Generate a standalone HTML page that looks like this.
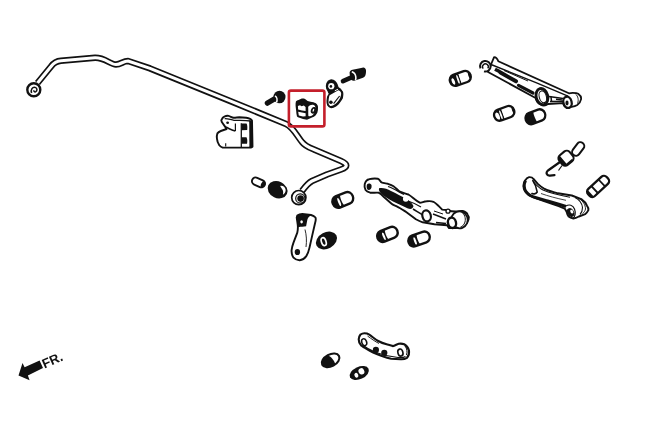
<!DOCTYPE html>
<html><head><meta charset="utf-8">
<style>
html,body{margin:0;padding:0;background:#fff;width:645px;height:430px;overflow:hidden;}
svg{display:block;filter:blur(0.3px);}
</style></head>
<body>
<svg width="645" height="430" viewBox="0 0 645 430">
<rect width="645" height="430" fill="#fff"/>
<g id="bar" fill="none" stroke-linejoin="round" stroke-linecap="butt">
<path id="barpath" d="M37.5,83 L51,66.5 Q55,61.2 61,60.8 L95,57.8 C105,57.5 110,64.5 116,64.5 C121,64.5 123,61 128,61 L150,68.4 L230,100.9 L286,124 C293,127 297,136 302,142 C305,146 309,147.5 314,149.5 L341,161 C348,164 348,167 341,169.5 L327,174.5 L312,181 C308,183 305,187 302,191" stroke="#111" stroke-width="6.5"/>
<path d="M37.5,83 L51,66.5 Q55,61.2 61,60.8 L95,57.8 C105,57.5 110,64.5 116,64.5 C121,64.5 123,61 128,61 L150,68.4 L230,100.9 L286,124 C293,127 297,136 302,142 C305,146 309,147.5 314,149.5 L341,161 C348,164 348,167 341,169.5 L327,174.5 L312,181 C308,183 305,187 302,191" stroke="#fff" stroke-width="3.1"/>
</g>
<!-- ball end -->
<circle cx="33.8" cy="89.7" r="6.5" fill="#fff" stroke="#111" stroke-width="2.4"/>
<path d="M31.6,93 C30.4,89.5 32.5,86.8 35.2,87.4 C37.4,88 37.5,91 35.6,91.8 C34.5,92.2 33.6,91.2 34,90.2" fill="none" stroke="#111" stroke-width="1.5"/>
<!-- eye end -->
<circle cx="298.8" cy="197.6" r="7.1" fill="#fff" stroke="#111" stroke-width="1.7"/>
<circle cx="300.3" cy="198.4" r="4.6" fill="#fff" stroke="#111" stroke-width="1.2"/>
<circle cx="300.6" cy="198.6" r="3.3" fill="#111"/>


<!-- left bracket -->
<path d="M221.3,120.3 C222,118.3 223.2,116.8 224.7,116.3 C226,115.8 227.4,115.6 228.6,115.9 C230.5,116.5 232,117.6 233.5,117.8 C235.5,117.9 237.5,117.3 239.3,117.3 L246.2,117.8 C247.7,118 249,118.3 250.1,118.8 C251,119.3 251.7,120 252,120.7 L252.5,146.6 C251.5,147.3 250.3,147.6 249.1,147.6 L222.7,147.6 C221.3,147.1 220.1,146.3 219.3,145.2 C218,143.2 217.1,140.8 216.9,138.3 C216.7,136.5 216.9,134.8 217.4,133.4 C218.2,132.2 219.4,131.5 220.8,131 L226.6,129 C226,128.3 225.7,127.7 225.4,127.1 L221.8,122 Z" fill="#fff" stroke="#111" stroke-width="1.9" stroke-linejoin="round"/>
<path d="M225.4,127.1 C228.5,128.2 231.5,129.8 235.4,131" fill="none" stroke="#111" stroke-width="1.6"/>
<path d="M224.7,118.6 C228,118.4 231,120 234,120.3 C239,120.6 244,120.2 250.5,121" fill="none" stroke="#111" stroke-width="1.3"/>
<path d="M235.4,123.5 L235.4,131" stroke="#111" stroke-width="1.2"/>
<path d="M241.3,123.3 L241.3,147" stroke="#111" stroke-width="1.3"/>
<ellipse cx="227.6" cy="122.7" rx="1.4" ry="1.2" fill="#111"/>
<path d="M241.6,123.5 L246.5,123.5 C247.3,124.5 247.5,127 247.2,130 L241.6,130.2 Z" fill="#111"/>
<path d="M241.6,137.3 L246.5,137.3 C247.4,139 247.5,141.5 247,143.8 L241.6,143.8 Z" fill="#111"/>
<path d="M250.6,120.5 L250.8,147.2" stroke="#111" stroke-width="2.8"/>
<path d="M225.7,143.3 L225.7,146.6" stroke="#111" stroke-width="1.1"/>

<!-- left bolt -->
<g>
<line x1="267.5" y1="103" x2="276" y2="98" stroke="#111" stroke-width="5.5" stroke-linecap="round"/>
<ellipse cx="279.5" cy="97" rx="6" ry="6.3" fill="#111"/>
<path d="M275,96 C277,97 277.5,100 276.5,102.5" fill="none" stroke="#fff" stroke-width="1.6"/>
</g>

<!-- right bolt -->
<line x1="343" y1="81.2" x2="351.5" y2="77.4" stroke="#111" stroke-width="4.6" stroke-linecap="round"/>
<path d="M349.6,72.3 C350.2,70.8 351.2,70 352.5,69.7 L360,68.3 L363.3,67.4 C364.6,67.3 365.6,68.3 365.9,69.8 C366.2,71.3 366,73.5 365.5,75 C365,76.3 364.2,77.2 363,77.8 L358,79.6 L355,80.6 C353.5,81 352.3,80.8 351.5,80 C350.3,78 349.5,75 349.6,72.3 Z" fill="#111"/>
<path d="M351.8,71.8 C354,72.5 355.5,74.5 355.8,76.8 C356,78 355.8,79.3 355.3,80" fill="none" stroke="#fff" stroke-width="1.6"/>

<!-- dogbone bracket -->
<path d="M330.5,80 C332.5,79.8 334,80.5 335,81.5 C336.3,82.7 337,84 337.4,85.5 L338,87.5 C339.5,88.2 340.5,89 341,89.8 C342.3,91.2 342.9,92.5 342.8,94 C342.7,95.5 342.6,96.7 342.3,98 C341.5,99.7 340.5,101 339.4,102.3 C338.3,103.8 337,105 335.7,106.1 C334.3,107 332.8,107.6 331.2,107.6 C329.8,107.4 328.5,106.5 327.8,105.3 C327.2,103.9 327,102.3 327.1,100.8 C327.2,99.3 327.4,97.8 327.8,96.4 C328.3,95.4 329,94.6 329.7,94.1 C329,93.2 328.6,92.3 328.2,91.2 C327,89.8 326.4,88 326.4,86 C326.5,84 327.2,82.3 328.3,81.2 C329,80.5 329.7,80.1 330.5,80 Z" fill="#111" stroke="#111" stroke-width="1.2" stroke-linejoin="round"/>
<circle cx="331.3" cy="86.2" r="3.1" fill="#fff"/>
<circle cx="330.9" cy="86.4" r="1.3" fill="#111"/>
<path d="M329.6,95.3 C332.5,93.6 335.5,92 338.3,90.2 C340,90.8 341.1,92 341.2,93.8 C341.1,96.5 339.6,99.8 336.8,102.8 C334.8,104.8 332.3,106.1 330.2,105.9 C328.8,105.2 328.4,103.6 328.5,101.6 C328.6,99.2 328.9,97 329.6,95.3 Z" fill="#fff"/>
<path d="M333.6,103.6 L339.6,96" stroke="#111" stroke-width="1.2"/>
<path d="M334.8,90.8 L338,89.2" stroke="#fff" stroke-width="1"/>
<circle cx="330.9" cy="102.3" r="1.8" fill="#111"/>

<!-- red box bushing -->
<g>
<path d="M295.9,101.5 C296.5,100.5 297.5,100.3 298.5,99.9 L301.8,98.6 C303,98.4 304,98.5 305,98.9 C306,99.5 306.8,100.5 307.6,100.9 C309.5,101.5 311.5,101.7 313.5,102.2 C315,102.7 316,103.3 316.7,104.1 C317.8,105.3 318.1,106.5 318,108 C318,109.5 317.9,111 317.4,112.6 C316.9,113.8 316.3,114.7 315.5,115.5 C314.5,116.4 313.3,117 312,117.5 L307,119.8 L303,119 L299.5,117.7 C298.3,117.4 297.5,117 297,116.5 C296.5,114.8 296.3,113 296.2,111.3 L295.6,106 C295.5,104.3 295.6,102.7 295.9,101.5 Z" fill="#111"/>
<path d="M297.9,106 L300,105.3 L301.6,106.3 L303.8,105.5 L305.6,107 L305.6,111.1 L302,110.5 L298.1,109.6 Z" fill="#fff"/>
<path d="M298.2,111.8 L302,112.5 L305.6,113.2 L305.6,116.2 L303,116.6 L298.8,115.6 Z" fill="#fff"/>
<path d="M308.2,106.8 C309.8,104.6 313.3,104 315,106 C316.1,108.6 315.4,112.8 312.8,115 C311.1,116.3 309,116.6 308.3,115.7 Z" fill="#fff"/>
<ellipse cx="313.4" cy="110.3" rx="1.6" ry="2.5" fill="#fff" stroke="#111" stroke-width="1.8" transform="rotate(20 313.4 110.3)"/>
</g>

<!-- black bushing -->
<ellipse cx="277.6" cy="189.7" rx="10.3" ry="8.3" fill="#111" transform="rotate(25 277.6 189.7)"/>
<path d="M280.2,185.9 C282.6,185.1 285.1,187 285.6,189.6 C286,191.8 284.8,193.8 282.9,194.8 C283.3,193 283.3,191.5 282.7,190 C282.1,188.7 281.1,187.8 280.2,185.9 Z" fill="#fff"/>
<!-- link -->
<path d="M297.3,215.6 C299,214.3 300.5,214 302.3,214 L311.1,215 C313,215.5 314.5,216.3 315.5,217.5 C316,219 315.7,220.8 315.2,222.5 L312.3,235.1 L309.5,247.6 C308.8,251 307.6,254 306.1,256.4 C304.5,258.6 302.3,260 299.8,260.2 C297.3,260.3 295,259.3 293.5,257.7 C292,255.5 291.4,252.8 291.6,250.1 C291.9,247.5 292.6,245 293.5,242.6 L297.3,232.6 C297.7,230.7 297.9,228.8 297.9,226.9 C297.8,223.5 297,220.5 296.7,217.5 Z" fill="#fff" stroke="#111" stroke-width="1.9" stroke-linejoin="round"/>
<path d="M297.3,215.6 C299,214.3 300.5,214 302.3,214 L311.1,215 C309,216.5 307.8,218 307.3,220 L306.1,226.3 C303,226.8 300,227 297.9,226.9 C297.8,223.5 297,220.5 296.7,217.5 Z" fill="#111"/>
<ellipse cx="301.6" cy="221.8" rx="1.3" ry="1.6" fill="#fff"/>
<ellipse cx="297.4" cy="252" rx="2.7" ry="3.1" fill="#111"/>
<path d="M305,229.5 C306.5,235 306.8,241 306,247" fill="none" stroke="#111" stroke-width="0.9"/>
<!-- bushing black ellipse near link -->
<ellipse cx="326.5" cy="240.5" rx="11.2" ry="8.1" fill="#111" transform="rotate(-28 326.5 240.5)"/>
<ellipse cx="323.7" cy="241.6" rx="2.3" ry="4.1" fill="none" stroke="#fff" stroke-width="1.7" transform="rotate(-18 323.7 241.6)"/>

<!-- middle arm -->
<g stroke="#111" stroke-width="1.9" stroke-linejoin="round" fill="#fff">
<path d="M364.7,184.3 C365.5,181 367,179.5 369.3,179.2 C372,178.5 375,178.3 377.7,178.7 C379.5,179.5 380.5,181.5 381.4,182.4 C383.5,183.3 385.5,183.3 387.9,183.8 C390,184.5 392,185.2 393.5,186.2 C396,188 398,190.5 400,191.7 C403,193 406,193.5 408.4,194.5 C412,196.5 416,201 419.8,202.7 C422,202.5 424,201.5 426.6,201.3 C429,201 431.5,201 433.4,201.8 C435.5,203 437,204.5 438.3,205.7 L442.2,209.6 L447.1,210 C450,211 453,211.8 456.9,211.5 C459,211 461,210.8 462.7,211 C465,211.8 467,213 467.6,214.5 C468.8,216 469,218 468.6,219.3 C468,222 466.5,224 464.7,225.2 C462,227 459,228 455.9,228.1 L449,228.1 C448,227 447.5,226 447.1,225.2 L434.4,224.2 L422.7,222.3 C420,221.5 418,220.5 415.9,219.3 L406.5,212.2 C403,210 400,208 397.2,206.6 C395,205.5 393,205 391.6,203.8 L384.2,197.3 C382,195 380.5,193.5 378.6,192.7 C375.5,192.5 372.5,193 370.2,192.7 C368,192 366.5,191.3 365.6,190 C364.5,188 364.3,186 364.7,184.3 Z"/>
</g>
<path d="M367,184.5 C368,183 371,183.2 371.6,185.5 C372,188 370.5,190 368.5,190 C366.5,189.5 366.3,186.5 367,184.5 Z" fill="#111"/>
<path d="M379,188.3 C383,187.5 387,189 391,191 C396,193.5 401,196 405,198 C409,200 412,203 413.5,206 C413,208.5 411,209.5 408,208.5 C403,206.5 398,203.5 393,201.5 C388,199 384,196 381,193.5 C379.5,192 378.5,190 379,188.3 Z" fill="#111"/>
<circle cx="405.8" cy="198.8" r="2.9" fill="#fff"/>
<path d="M388,186.5 C394,188.5 399,192 404,194.5" fill="none" stroke="#111" stroke-width="1.3"/>
<path d="M413,209 C418,212 422,215 428,217.5" fill="none" stroke="#111" stroke-width="1.6"/>
<path d="M408,201 C414,203 418,205 421,207" fill="none" stroke="#111" stroke-width="1.1"/>
<ellipse cx="426.6" cy="215.9" rx="4.2" ry="5.6" fill="#fff" stroke="#111" stroke-width="2.2" transform="rotate(-15 426.6 215.9)"/>
<path d="M433,214 L446,219" stroke="#111" stroke-width="1.5"/>
<path d="M434,211 L443,214" stroke="#111" stroke-width="1"/>
<path d="M436,222.5 L446,223.5" stroke="#111" stroke-width="1.3"/>
<ellipse cx="459.5" cy="219.8" rx="8.2" ry="8.5" fill="#fff" stroke="#111" stroke-width="1.8" transform="rotate(-20 459.5 219.8)"/>
<path d="M461.5,212 C464.5,214 466,218 465,222 C464,225 462.5,226.5 460.5,227" fill="none" stroke="#111" stroke-width="1"/>
<ellipse cx="452" cy="222.8" rx="4" ry="5.2" fill="#fff" stroke="#111" stroke-width="2.4" transform="rotate(-15 452 222.8)"/>
<circle cx="448" cy="211.2" r="2" fill="#fff" stroke="#111" stroke-width="1.3"/>

<!-- top right arm -->
<path d="M494.1,57.1 C496,57.2 497.5,59 498.3,61.3 L568.9,93.3 C570,93 571.5,92.9 572.7,92.9 C575.5,92.9 577.5,93.3 578.2,93.8 C580.5,95.5 581.5,97.5 581,99.4 C580.5,102 579,104 577.3,105 C575.5,106 573.5,106.5 571.7,106.8 C570,107.5 568.5,108.2 567,108.2 C565,107 563.5,105 563.3,103.1 L548,104 C546,105.5 543,106 540.5,104.5 C538,103 536,100.5 535.6,98 L488,72 C489,69 490,66.5 491,64.5 Z" fill="#fff" stroke="#111" stroke-width="1.8" stroke-linejoin="round"/>
<path d="M491,64.5 L536,82.7 L568,96.1" fill="none" stroke="#111" stroke-width="1.4"/>
<path d="M495,69.2 L500,71.8" stroke="#111" stroke-width="3.5"/>
<path d="M500.5,72.5 L516,81.3" stroke="#111" stroke-width="4" stroke-linecap="round"/>
<path d="M518.5,85.3 L533,93" stroke="#111" stroke-width="3.2" stroke-linecap="round"/>
<path d="M504,70.5 L528,81" stroke="#111" stroke-width="1"/>
<ellipse cx="542" cy="96.6" rx="5.8" ry="8.2" fill="#fff" stroke="#111" stroke-width="2.8" transform="rotate(-15 542 96.6)"/>
<ellipse cx="542.8" cy="96.8" rx="3.6" ry="6" fill="#fff" stroke="#111" stroke-width="1.1" transform="rotate(-15 542.8 96.8)"/>
<path d="M549,96.5 L563,98.5" stroke="#111" stroke-width="1.5"/>
<path d="M550,101.5 L563,101.5" stroke="#111" stroke-width="1.6"/>
<path d="M551,96.5 L551.5,101.5" stroke="#111" stroke-width="1.5"/>
<path d="M556,99.3 L562,100" stroke="#111" stroke-width="1.5"/>
<path d="M575.5,94 C578,96 579,100 577.5,103.5" fill="none" stroke="#111" stroke-width="0.9"/>
<ellipse cx="567.5" cy="102.3" rx="4.1" ry="5.7" fill="#fff" stroke="#111" stroke-width="2.3" transform="rotate(-15 567.5 102.3)"/>
<ellipse cx="567" cy="103" rx="1.6" ry="2.4" fill="#111"/>
<circle cx="485.6" cy="66.2" r="5.3" fill="#fff"/>
<path d="M480.5,68.4 A5.3,5.3 0 1 1 484,71.4" fill="none" stroke="#111" stroke-width="2"/>
<path d="M483.2,68.6 A2.9,2.9 0 1 1 487.8,68.4" fill="none" stroke="#111" stroke-width="1.4"/>

<!-- stud -->
<path d="M560,162 L548,170.5 C545.5,172.5 546.5,176 550,175.6 L554.5,175.2" fill="none" stroke="#111" stroke-width="2.2" stroke-linecap="round"/>
<path d="M562,165.5 L558.5,170.5" stroke="#111" stroke-width="1.2"/>
<g transform="translate(578.2,149) rotate(-53)">
<rect x="-7.5" y="-3.9" width="15" height="7.8" rx="3.9" fill="#fff" stroke="#111" stroke-width="2"/>
</g>
<g transform="translate(566,158.2) rotate(-40)">
<rect x="-6.8" y="-6.2" width="13.6" height="12.4" rx="4" fill="#fff" stroke="#111" stroke-width="2.1"/>
<path d="M-3.2,-6.2 L-3.2,6.2 L-2.8,6.2 C-5,6.2 -6.8,5 -6.8,2.8 L-6.8,-2.8 C-6.8,-5 -5,-6.2 -2.8,-6.2 Z" fill="#111"/>
<path d="M-3.4,5.2 L4,5.2" stroke="#111" stroke-width="1.6"/>
</g>
<!-- right arm -->
<path d="M529.1,177.1 C531,177 532.5,177.5 533.5,179 L537.8,183.9 C540,186 542,187.5 544.1,188.6 C548,190.5 553,192 558,193.3 C563,194.2 567,194.8 571.8,195.5 L581.3,199.1 C584,201 586,203 586.8,205.4 C588,207 588.6,208.5 588.4,210.2 C587.5,212 586.5,213.3 585.2,214.1 L578.9,216.5 C577,217.5 575,218.3 573.4,218.5 C571.5,218 570,217.5 568.6,216.5 C567.6,215 567,213.5 566.6,211.7 L564.7,208.6 C560,206.5 556,205 552,203.8 C547,202.2 542,200.5 537.8,198.9 C534,197.8 531,196.5 528.3,194.9 C525.5,192.5 523.5,189.5 523.5,186.2 C523.5,182 526,178 529.1,177.1 Z" fill="#fff" stroke="#111" stroke-width="1.9" stroke-linejoin="round"/>
<path d="M525.5,180.5 C523.8,184 524,188.5 526,191.5 C528,194.5 531.5,196.5 537,198 L546.4,200.6 C552,202.2 558,203.8 566,206.5" fill="none" stroke="#111" stroke-width="3"/>
<path d="M532.5,180 C535,183.5 536.5,187.5 537.2,192 C536,194 533,194.6 531.5,193" fill="none" stroke="#111" stroke-width="1.6"/>
<path d="M533.5,182 C536.5,185 539,188 543,190 C550,193 558,195 570,197.2" fill="none" stroke="#111" stroke-width="1.1"/>
<path d="M541,193.5 C548,196 556,198.2 566,200.3" fill="none" stroke="#111" stroke-width="0.8"/>
<path d="M575,197.5 C579,199.5 582,203 582.5,207.5 C582.5,210.5 581.5,213 580,214.5" fill="none" stroke="#111" stroke-width="1.1"/>
<path d="M579,198.5 C583,201 585.5,205 585.5,209 C585,211 584,212.5 582.5,213.5" fill="none" stroke="#111" stroke-width="0.9"/>
<path d="M566,206 C569,204 573,205 574.5,209 C576,213 575,217 573,218" fill="none" stroke="#111" stroke-width="1.2"/>
<ellipse cx="570.6" cy="212.4" rx="3.4" ry="4.6" fill="#111" transform="rotate(-30 570.6 212.4)"/>
<ellipse cx="571.8" cy="211.6" rx="1.4" ry="2" fill="#fff" transform="rotate(-30 571.8 211.6)"/>

<!-- bottom plate -->
<path d="M360.5,334.5 C362.5,333 365,333 367,333.6 C369,334.3 370.5,335.4 371.7,336.4 C374,338.2 376,339.8 378.2,341 C381,342.5 384,343.6 386.6,344.3 C389,345 391,345.7 393.1,346.1 C395,345.5 396.8,344.3 398.7,343.8 C400.5,343.4 402.5,343.6 404.2,344.3 C406.5,345.5 408.2,347.8 408.9,350.3 C409.4,353 408.6,356 407,357.8 C405,359 402.8,359.4 400.5,359.2 L391.2,358.7 C388,358 385,357 381.9,355.9 C378.8,354.8 375.6,353.6 372.6,352.2 C369.6,350.8 366.8,349.3 364.2,347.5 C362.5,346.5 361.8,346.2 361.4,345.7 C359.6,343.8 358.6,341.5 358.7,339.2 C358.8,337.3 359.5,335.7 360.5,334.5 Z" fill="#fff" stroke="#111" stroke-width="2.1" stroke-linejoin="round"/>
<path d="M362.5,345 C366,347.8 371,350.5 376,352.5 C382,354.8 390,356.8 398,357.5 C401.5,357.8 404,357.5 405.5,356.5" fill="none" stroke="#111" stroke-width="1.2"/>
<path d="M367.5,336 C371,338.5 375,341.5 379,343.5" fill="none" stroke="#111" stroke-width="0.9"/>
<path d="M405,346 C407,348.5 407.5,352 406.5,355" fill="none" stroke="#111" stroke-width="1"/>
<ellipse cx="364.2" cy="342.2" rx="2.4" ry="3.5" fill="#fff" stroke="#111" stroke-width="1.5" transform="rotate(-20 364.2 342.2)"/>
<ellipse cx="400.4" cy="352.6" rx="2.5" ry="3.6" fill="#fff" stroke="#111" stroke-width="1.6" transform="rotate(-15 400.4 352.6)"/>
<circle cx="375.9" cy="349.9" r="3.1" fill="#111"/>
<circle cx="384.3" cy="352.8" r="3.1" fill="#111"/>
<!-- bottom bushings -->
<g transform="translate(330.6,360.4) rotate(-28)">
<ellipse cx="0" cy="0" rx="9.5" ry="5.9" fill="#fff" stroke="#111" stroke-width="2.1"/>
<path d="M-9.5,0 A9.5,5.9 0 0 1 0,-5.9 C2.5,-3 3,2 2.5,5.6 A9.5,5.9 0 0 1 -9.5,0 Z" fill="#111"/>
</g>
<g transform="translate(359.3,373) rotate(-25)">
<ellipse cx="0" cy="0" rx="10.2" ry="6.2" fill="#111"/>
<ellipse cx="-3.6" cy="0.8" rx="1.9" ry="2.4" fill="#fff"/>
<ellipse cx="2.6" cy="-0.6" rx="2.9" ry="3.2" fill="#fff"/>
</g>

<!-- GEN_BUSH_START -->
<!-- bush A -->
<g transform="translate(460.3,78.4) rotate(-19)">
<clipPath id="cb0"><rect x="-10.8" y="-5.7" width="21.6" height="11.4" rx="5.2" ry="5.7"/></clipPath>
<rect x="-10.8" y="-5.7" width="21.6" height="11.4" rx="5.2" ry="5.7" fill="#fff"/>
<g clip-path="url(#cb0)">
<rect x="-11.8" y="-6.7" width="11.5" height="13.4" fill="#111"/>
<ellipse cx="-7.6" cy="0.7" rx="1.5" ry="3.53" fill="#fff"/>
<ellipse cx="-2.5" cy="0.3" rx="0.9" ry="4.84" fill="#fff"/>
<rect x="-0.3" y="-6.7" width="11.8" height="13.4" fill="#fff"/>
<ellipse cx="11.100000000000001" cy="0" rx="2.6" ry="6.20" fill="#111"/>
</g>
<rect x="-10.8" y="-5.7" width="21.6" height="11.4" rx="5.2" ry="5.7" fill="none" stroke="#111" stroke-width="2.3"/>
</g>
<!-- bush B -->
<g transform="translate(504.2,113.4) rotate(-20)">
<clipPath id="cb1"><rect x="-10.4" y="-5.7" width="20.8" height="11.4" rx="5.2" ry="5.7"/></clipPath>
<rect x="-10.4" y="-5.7" width="20.8" height="11.4" rx="5.2" ry="5.7" fill="#fff"/>
<g clip-path="url(#cb1)">
<rect x="-11.4" y="-6.7" width="10.1" height="13.4" fill="#111"/>
<ellipse cx="-7.5" cy="0.6" rx="2.3" ry="4.10" fill="#fff"/>
<ellipse cx="-3.6" cy="0.3" rx="0.85" ry="4.84" fill="#fff"/>
<rect x="-1.3" y="-6.7" width="12.4" height="13.4" fill="#fff"/>
<ellipse cx="10.700000000000001" cy="0" rx="2.3" ry="6.20" fill="#111"/>
</g>
<rect x="-10.4" y="-5.7" width="20.8" height="11.4" rx="5.2" ry="5.7" fill="none" stroke="#111" stroke-width="2.3"/>
</g>
<!-- bush C -->
<g transform="translate(535.4,116.8) rotate(-21)">
<clipPath id="cb2"><rect x="-10.2" y="-5.8" width="20.4" height="11.6" rx="5.2" ry="5.8"/></clipPath>
<rect x="-10.2" y="-5.8" width="20.4" height="11.6" rx="5.2" ry="5.8" fill="#fff"/>
<g clip-path="url(#cb2)">
<rect x="-11.2" y="-6.8" width="11.799999999999999" height="13.6" fill="#111"/>
<ellipse cx="0.6" cy="0" rx="1.4" ry="6.80" fill="#fff"/>
<rect x="0.6" y="-6.8" width="11.2" height="13.6" fill="#fff"/>
</g>
<rect x="-10.2" y="-5.8" width="20.4" height="11.6" rx="5.2" ry="5.8" fill="none" stroke="#111" stroke-width="2.3"/>
</g>
<!-- bush eyeBush -->
<g transform="translate(342.8,199.9) rotate(-22)">
<clipPath id="cb3"><rect x="-10.7" y="-6.0" width="21.4" height="12.0" rx="5.2" ry="6.0"/></clipPath>
<rect x="-10.7" y="-6.0" width="21.4" height="12.0" rx="5.2" ry="6.0" fill="#fff"/>
<g clip-path="url(#cb3)">
<rect x="-11.7" y="-7.0" width="11.1" height="14.0" fill="#111"/>
<ellipse cx="-4.1" cy="0.6" rx="1.1" ry="4.32" fill="#fff"/>
<ellipse cx="0.6" cy="0" rx="2.2" ry="7.00" fill="#fff"/>
<rect x="0.6" y="-7.0" width="11.7" height="14.0" fill="#fff"/>
</g>
<rect x="-10.7" y="-6.0" width="21.4" height="12.0" rx="5.2" ry="6.0" fill="none" stroke="#111" stroke-width="2.4"/>
</g>
<!-- bush B2 -->
<g transform="translate(387.4,234.4) rotate(-22)">
<clipPath id="cb4"><rect x="-10.6" y="-5.7" width="21.2" height="11.4" rx="5.2" ry="5.7"/></clipPath>
<rect x="-10.6" y="-5.7" width="21.2" height="11.4" rx="5.2" ry="5.7" fill="#fff"/>
<g clip-path="url(#cb4)">
<rect x="-11.6" y="-6.7" width="11.0" height="13.4" fill="#111"/>
<ellipse cx="-4.0" cy="0.6" rx="1.1" ry="4.10" fill="#fff"/>
<ellipse cx="0.6" cy="0" rx="2.2" ry="6.70" fill="#fff"/>
<rect x="0.6" y="-6.7" width="11.6" height="13.4" fill="#fff"/>
</g>
<rect x="-10.6" y="-5.7" width="21.2" height="11.4" rx="5.2" ry="5.7" fill="none" stroke="#111" stroke-width="2.4"/>
</g>
<!-- bush B3 -->
<g transform="translate(419.1,239.0) rotate(-20)">
<clipPath id="cb5"><rect x="-11.0" y="-5.6" width="22.0" height="11.2" rx="5.2" ry="5.6"/></clipPath>
<rect x="-11.0" y="-5.6" width="22.0" height="11.2" rx="5.2" ry="5.6" fill="#fff"/>
<g clip-path="url(#cb5)">
<rect x="-12.0" y="-6.6" width="11.4" height="13.2" fill="#111"/>
<ellipse cx="-4.4" cy="0.6" rx="1.1" ry="4.03" fill="#fff"/>
<ellipse cx="0.6" cy="0" rx="2.2" ry="6.60" fill="#fff"/>
<rect x="0.6" y="-6.6" width="12.0" height="13.2" fill="#fff"/>
</g>
<rect x="-11.0" y="-5.6" width="22.0" height="11.2" rx="5.2" ry="5.6" fill="none" stroke="#111" stroke-width="2.4"/>
</g>
<!-- bush sleeve -->
<g transform="translate(258.5,182.4) rotate(24)">
<clipPath id="cb6"><rect x="-6.8" y="-3.7" width="13.6" height="7.4" rx="3.7" ry="3.7"/></clipPath>
<rect x="-6.8" y="-3.7" width="13.6" height="7.4" rx="3.7" ry="3.7" fill="#fff"/>
<g clip-path="url(#cb6)">
<ellipse cx="6.3" cy="0" rx="3.3" ry="4.20" fill="#111"/>
</g>
<rect x="-6.8" y="-3.7" width="13.6" height="7.4" rx="3.7" ry="3.7" fill="none" stroke="#111" stroke-width="1.9"/>
</g>
<!-- bush rightB -->
<g transform="translate(598.1,186.4) rotate(-43)">
<clipPath id="cb7"><rect x="-12.7" y="-4.8" width="25.4" height="9.6" rx="3.8" ry="3.8"/></clipPath>
<rect x="-12.7" y="-4.8" width="25.4" height="9.6" rx="3.8" ry="3.8" fill="#fff"/>
<g clip-path="url(#cb7)">
<rect x="-13.7" y="-5.8" width="3.6" height="11.6" fill="#111"/>
<rect x="-5.699999999999999" y="-5.8" width="2.0" height="11.6" fill="#111"/>
<rect x="4.1" y="-5.8" width="1.8" height="11.6" fill="#111"/>
</g>
<rect x="-12.7" y="-4.8" width="25.4" height="9.6" rx="3.8" ry="3.8" fill="none" stroke="#111" stroke-width="2.3"/>
</g>
<!-- GEN_BUSH_END -->
<!-- red box -->
<rect x="288.9" y="90.6" width="35.5" height="35.8" rx="2" fill="none" stroke="#c41f2b" stroke-width="2.6"/>

<!-- FR arrow -->
<path d="M18.5,375.6 L22.5,363.1 L24.6,367.2 L39.6,360.6 L43,368.1 L27.9,375.6 L29.6,380.2 Z" fill="#111"/>
<text x="0" y="0" transform="translate(44.4,368.6) rotate(-24)" font-family="Liberation Sans, sans-serif" font-weight="bold" font-size="13" letter-spacing="0.2" fill="#111">FR.</text>
</svg>
</body></html>
